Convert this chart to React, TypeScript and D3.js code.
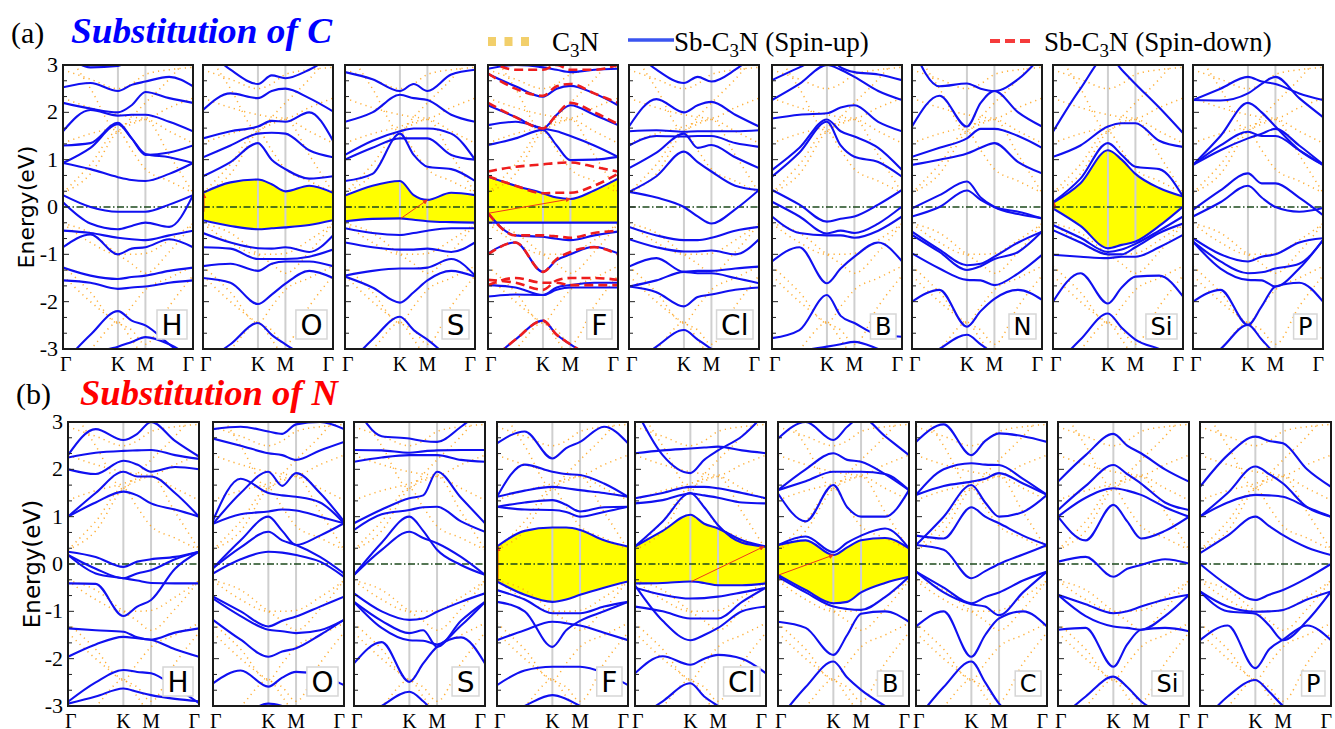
import React from 'react';
import * as d3 from 'd3';

// k-path sample points: Γ, ½ΓK, K, ½KM, M, ½MΓ, Γ (fraction of path length)
const kFrac = [0, 0.2113, 0.4226, 0.5283, 0.634, 0.817, 1];
const kTickFrac = [0, 0.4226, 0.634, 1];
const kTickLabels = ['Γ', 'K', 'M', 'Γ'];
const energyTicks = [3, 2, 1, 0, -1, -2, -3];
const energyDomain = [-3, 3];

const namesA = ['H', 'O', 'S', 'F', 'Cl', 'B', 'N', 'Si', 'P'];
const namesB = ['H', 'O', 'S', 'F', 'Cl', 'B', 'C', 'Si', 'P'];

// pristine C3N (orange dotted)
const c3nBands = [
  [-0.35, -0.75, -1.0, -1.0, -0.98, -0.7, -0.35],
  [-0.35, -0.55, -1.0, -1.2, -1.4, -0.95, -0.35],
  [-1.25, -1.8, -2.45, -2.1, -1.75, -1.5, -1.25],
  [-1.45, -2.0, -2.45, -2.6, -2.9, -2.1, -1.45],
  [-3.4, -3.0, -2.45, -2.8, -3.2, -3.4, -3.5],
  [0.3, 0.9, 1.6, 1.2, 0.8, 0.55, 0.3],
  [0.3, 0.7, 1.6, 1.75, 1.85, 1.1, 0.3],
  [1.35, 1.55, 1.7, 1.8, 1.85, 1.6, 1.35],
  [3.4, 2.5, 1.6, 1.9, 2.2, 2.7, 3.3],
  [2.3, 2.1, 1.95, 1.9, 1.88, 2.1, 2.3],
  [2.9, 2.7, 2.5, 2.6, 2.8, 2.9, 2.95],
];

// (a) substitution of C — spin-up bands
const aH = [
  [3.3, 2.95, 2.98, 3.1, 3.2, 3.3, 3.4],
  [2.53, 2.62, 2.45, 2.58, 2.65, 2.75, 2.55],
  [2.2, 2.08, 2.0, 2.15, 2.43, 2.3, 2.2],
  [1.6, 2.05, 1.93, 1.95, 1.95, 1.8, 1.6],
  [1.3, 1.35, 1.78, 1.45, 1.1, 1.15, 1.3],
  [0.93, 1.25, 1.75, 1.45, 1.12, 1.05, 0.93],
  [0.93, 0.8, 0.63, 0.57, 0.55, 0.7, 0.93],
  [0.25, 0.0, -0.1, -0.1, -0.1, 0.05, 0.25],
  [0.1, -0.35, -0.47, -0.4, -0.33, -0.42, 0.25],
  [-0.5, -0.55, -0.65, -0.68, -0.7, -0.6, -0.5],
  [-0.85, -0.58, -1.0, -0.88, -0.85, -0.68, -0.85],
  [-1.28, -1.45, -1.52, -1.48, -1.45, -1.35, -1.28],
  [-1.55, -1.6, -1.73, -1.7, -1.68, -1.6, -1.55],
  [-3.3, -2.7, -2.2, -2.4, -2.5, -2.9, -3.3],
  [-3.4, -3.1, -2.95, -2.85, -2.75, -2.9, -3.2],
];
const aO = [
  [3.4, 2.9, 2.6, 2.78, 2.72, 2.9, 3.2],
  [2.05, 2.4, 2.3, 2.45, 2.5, 2.3, 2.02],
  [1.45, 1.6, 1.7, 1.82, 1.8, 2.0, 1.4],
  [1.05, 1.3, 1.55, 1.57, 1.55, 1.2, 1.05],
  [0.65, 0.95, 1.35, 1.0, 0.8, 0.6, 0.65],
  [0.3, 0.52, 0.58, 0.48, 0.33, 0.45, 0.3],
  [-0.28, -0.4, -0.47, -0.45, -0.43, -0.38, -0.28],
  [-0.55, -0.75, -0.87, -0.88, -0.85, -0.95, -0.6],
  [-0.85, -0.88, -1.1, -1.1, -1.1, -1.05, -0.9],
  [-1.25, -1.2, -1.35, -1.2, -1.15, -1.15, -1.25],
  [-1.5, -1.6, -2.05, -1.85, -1.62, -1.35, -1.5],
  [-3.3, -2.9, -2.45, -2.7, -2.9, -3.2, -3.4],
];
const aS = [
  [2.85, 2.7, 2.45, 2.6, 2.45, 2.8, 2.9],
  [1.8, 2.0, 2.37, 2.3, 2.26, 1.95, 1.8],
  [1.1, 1.4, 1.6, 1.66, 1.66, 1.55, 1.0],
  [1.0, 1.25, 1.45, 1.45, 1.45, 1.1, 1.0],
  [0.55, 0.7, 1.55, 1.1, 0.85, 0.8, 0.55],
  [0.24, 0.45, 0.55, 0.25, 0.15, 0.3, 0.25],
  [-0.3, -0.25, -0.24, -0.27, -0.3, -0.32, -0.33],
  [-0.45, -0.55, -0.59, -0.55, -0.5, -0.45, -0.45],
  [-0.75, -0.85, -0.9, -0.9, -0.88, -0.95, -0.75],
  [-1.45, -1.35, -1.3, -1.3, -1.28, -1.1, -1.45],
  [-1.47, -1.7, -2.02, -1.8, -1.55, -1.35, -1.47],
  [-3.4, -2.8, -2.32, -2.6, -2.8, -3.2, -3.4],
];
const aF = [
  [2.92, 3.0, 2.95, 2.9, 2.85, 2.9, 2.92],
  [2.81, 2.55, 2.33, 2.5, 2.56, 2.4, 2.15],
  [2.15, 1.9, 1.66, 1.95, 2.15, 1.95, 1.73],
  [1.73, 1.8, 1.66, 1.6, 1.5, 1.3, 1.06],
  [1.31, 1.45, 1.63, 1.3, 0.99, 1.0, 1.06],
  [0.64, 0.45, 0.29, 0.2, 0.17, 0.35, 0.6],
  [-0.33, -0.33, -0.33, -0.33, -0.33, -0.33, -0.33],
  [-0.13, -0.6, -0.63, -0.67, -0.7, -0.6, -0.52],
  [-0.98, -0.75, -1.37, -1.12, -1.0, -0.84, -0.98],
  [-1.65, -1.7, -1.86, -1.7, -1.65, -1.6, -1.6],
  [-1.89, -1.85, -1.86, -1.75, -1.7, -1.7, -1.7],
  [-3.3, -2.8, -2.4, -2.7, -2.9, -3.2, -3.4],
];
// (a) F — spin-down bands
const aFDown = [
  [3.1, 2.9, 2.9, 3.0, 2.9, 2.9, 3.0],
  [2.82, 2.5, 2.35, 2.55, 2.6, 2.4, 2.2],
  [2.2, 1.9, 1.66, 1.95, 2.2, 2.0, 1.75],
  [0.75, 0.85, 0.9, 0.93, 0.94, 0.85, 0.75],
  [0.65, 0.45, 0.29, 0.3, 0.3, 0.45, 0.7],
  [-0.13, -0.6, -0.6, -0.62, -0.65, -0.55, -0.5],
  [-1.0, -0.75, -1.37, -1.1, -0.95, -0.85, -1.0],
  [-1.54, -1.6, -1.75, -1.55, -1.5, -1.5, -1.54],
  [-1.65, -1.5, -1.6, -1.6, -1.65, -1.65, -1.65],
  [-3.3, -2.8, -2.4, -2.7, -2.9, -3.2, -3.4],
];
const aCl = [
  [3.4, 2.9, 2.62, 2.75, 2.65, 2.9, 3.3],
  [1.7, 2.28, 2.0, 2.15, 2.22, 1.95, 1.7],
  [1.6, 1.62, 1.59, 1.6, 1.6, 1.6, 1.62],
  [1.3, 1.5, 1.49, 1.5, 1.5, 1.35, 1.27],
  [0.82, 1.15, 1.55, 1.25, 1.31, 1.05, 0.82],
  [0.32, 0.65, 1.17, 0.95, 0.75, 0.45, 0.36],
  [0.32, 0.2, 0.0, -0.2, -0.35, -0.05, 0.36],
  [-0.42, -0.6, -0.7, -0.7, -0.65, -0.5, -0.42],
  [-0.68, -0.85, -0.94, -0.94, -0.92, -1.0, -0.68],
  [-1.26, -1.08, -1.37, -1.35, -1.35, -1.3, -1.26],
  [-1.68, -1.55, -1.37, -1.4, -1.4, -1.5, -1.61],
  [-1.68, -1.8, -2.1, -1.9, -1.85, -1.75, -1.7],
  [-3.4, -2.95, -2.6, -2.8, -3.0, -3.3, -3.4],
];
const aB = [
  [2.68, 2.95, 3.2, 2.95, 2.85, 2.8, 2.68],
  [2.26, 2.6, 3.0, 2.9, 2.75, 2.45, 2.26],
  [1.87, 1.95, 1.98, 2.1, 2.15, 1.8, 1.6],
  [0.78, 1.25, 1.85, 1.6, 1.49, 1.25, 0.78],
  [0.64, 1.15, 1.8, 1.3, 1.06, 0.95, 0.64],
  [0.36, 0.05, -0.31, -0.25, -0.2, 0.05, 0.36],
  [0.11, -0.2, -0.56, -0.5, -0.55, -0.35, 0.01],
  [-0.2, -0.55, -0.6, -0.6, -0.65, -0.5, -0.2],
  [-1.15, -0.85, -1.61, -1.3, -1.05, -0.75, -1.15],
  [-2.77, -2.6, -1.86, -2.3, -2.45, -2.7, -2.74],
  [-3.2, -3.05, -2.95, -2.9, -2.85, -3.0, -3.2],
];
const aN = [
  [3.4, 2.55, 2.61, 2.5, 2.45, 2.7, 3.2],
  [1.7, 2.35, 1.7, 2.2, 2.45, 2.0, 1.7],
  [1.06, 1.25, 1.45, 1.65, 1.65, 1.5, 1.25],
  [0.89, 1.0, 1.13, 1.25, 1.35, 0.95, 0.71],
  [-0.03, 0.25, 0.54, 0.2, 0.0, -0.15, -0.24],
  [-0.2, 0.0, 0.35, 0.15, 0.0, -0.1, -0.24],
  [-0.52, -0.9, -1.23, -1.2, -1.05, -0.75, -0.52],
  [-0.59, -0.95, -1.33, -1.25, -1.1, -0.95, -0.52],
  [-0.98, -1.3, -1.54, -1.55, -1.65, -1.4, -1.01],
  [-2.0, -1.75, -2.53, -2.2, -1.94, -1.75, -1.96],
  [-3.4, -3.0, -2.7, -2.9, -3.1, -3.3, -3.4],
];
const aSi = [
  [1.59, 2.5, 3.2, 2.9, 2.6, 2.1, 1.56],
  [1.06, 1.3, 1.7, 1.77, 1.77, 1.4, 1.27],
  [0.09, 0.5, 1.2, 1.0, 0.7, 0.4, 0.22],
  [0.1, 0.6, 1.35, 1.1, 0.85, 0.8, 0.22],
  [-0.03, -0.4, -0.87, -0.8, -0.73, -0.4, 0.01],
  [-0.38, -0.65, -0.95, -0.9, -0.78, -0.5, -0.2],
  [-0.49, -0.75, -1.0, -1.0, -0.85, -0.55, -0.35],
  [-1.01, -1.05, -1.08, -1.05, -1.05, -0.85, -0.59],
  [-2.0, -1.4, -2.04, -1.7, -1.47, -1.45, -1.89],
  [-3.4, -2.8, -2.25, -2.55, -2.8, -3.0, -3.2],
];
const aP = [
  [2.26, 2.5, 2.75, 2.65, 2.6, 2.4, 2.26],
  [2.26, 2.25, 2.4, 2.6, 2.75, 2.3, 1.9],
  [0.89, 1.3, 1.59, 1.5, 1.5, 1.2, 0.89],
  [0.89, 1.2, 1.45, 1.55, 1.65, 1.3, 0.9],
  [0.89, 1.5, 2.2, 2.0, 1.7, 1.2, 0.89],
  [-0.06, 0.35, 0.71, 0.5, 0.5, 0.2, -0.17],
  [-0.2, 0.1, 0.45, 0.2, 0.0, -0.1, -0.02],
  [-0.66, -1.0, -1.15, -1.05, -1.0, -0.75, -0.66],
  [-0.73, -1.15, -1.4, -1.38, -1.3, -1.2, -0.7],
  [-0.73, -1.3, -1.54, -1.55, -1.68, -1.3, -0.7],
  [-2.0, -1.75, -2.49, -2.1, -1.68, -1.6, -2.0],
  [-3.4, -3.0, -2.49, -2.8, -3.1, -3.3, -3.4],
];

// (b) substitution of N — spin-up bands
const bH = [
  [2.3, 2.85, 2.62, 2.75, 3.0, 2.6, 2.27],
  [2.25, 2.35, 2.39, 2.4, 2.41, 2.3, 2.22],
  [2.0, 1.9, 2.18, 2.1, 1.95, 2.05, 2.0],
  [1.0, 1.5, 1.95, 1.85, 1.85, 1.5, 1.0],
  [1.0, 1.3, 1.53, 1.45, 1.28, 1.15, 1.0],
  [0.26, 0.15, -0.06, 0.05, 0.1, 0.15, 0.26],
  [0.19, -0.1, -0.3, -0.2, -0.13, 0.1, 0.26],
  [0.19, -0.2, -0.3, -0.35, -0.4, -0.41, -0.41],
  [-0.41, -0.42, -1.1, -0.9, -0.76, -0.1, 0.26],
  [-1.36, -1.4, -1.43, -1.55, -1.6, -1.45, -1.36],
  [-1.96, -1.7, -1.54, -1.57, -1.6, -1.8, -1.96],
  [-2.91, -2.5, -2.24, -2.28, -2.31, -2.6, -2.94],
  [-2.95, -2.8, -2.63, -2.7, -2.77, -2.85, -2.9],
];
const bO = [
  [2.85, 2.9, 2.8, 2.75, 2.95, 3.0, 2.85],
  [2.65, 2.5, 2.34, 2.3, 2.2, 2.4, 2.58],
  [0.92, 1.8, 1.5, 1.45, 1.42, 1.3, 0.86],
  [0.85, 1.05, 1.11, 1.15, 1.13, 1.0, 0.86],
  [0.85, 1.5, 1.95, 1.65, 1.92, 1.5, 0.9],
  [-0.09, 0.5, 1.0, 0.7, 0.4, 0.6, 0.86],
  [-0.09, 0.35, 0.68, 0.5, 0.4, 0.15, -0.2],
  [-0.2, 0.1, 0.26, 0.24, 0.19, 0.05, -0.27],
  [-0.69, -1.0, -1.32, -1.2, -1.11, -0.9, -0.69],
  [-0.73, -1.1, -1.39, -1.42, -1.46, -1.4, -1.18],
  [-1.18, -1.6, -1.96, -1.85, -1.78, -1.5, -1.18],
  [-2.52, -2.25, -2.59, -2.4, -2.28, -2.35, -2.56],
  [-3.4, -3.2, -2.95, -3.0, -3.1, -3.3, -3.4],
];
const bS = [
  [2.41, 2.4, 2.35, 2.38, 2.4, 2.41, 2.41],
  [2.16, 2.25, 2.3, 2.3, 2.3, 2.2, 2.16],
  [3.4, 2.7, 2.65, 2.6, 2.58, 2.9, 3.3],
  [0.86, 1.15, 1.39, 1.45, 1.95, 1.4, 0.86],
  [0.72, 1.05, 1.14, 1.2, 1.21, 0.9, 0.68],
  [-0.23, 0.3, 0.68, 0.55, 0.44, 0.15, -0.23],
  [-0.23, 0.45, 1.0, 0.7, 0.3, -0.02, -0.23],
  [-0.62, -1.0, -1.18, -1.15, -1.01, -0.8, -0.62],
  [-0.8, -1.2, -1.46, -1.4, -1.75, -1.2, -0.8],
  [-0.8, -1.35, -1.61, -1.62, -1.7, -1.3, -0.8],
  [-2.1, -1.65, -2.49, -2.1, -1.75, -1.55, -2.1],
  [-3.4, -3.0, -2.7, -2.9, -3.2, -3.4, -3.5],
];
const bF = [
  [2.55, 2.8, 2.23, 2.45, 2.58, 2.9, 2.55],
  [1.42, 2.1, 1.95, 1.9, 1.88, 1.7, 1.42],
  [1.42, 1.55, 1.63, 1.6, 1.56, 1.5, 1.42],
  [1.21, 1.3, 1.35, 1.25, 1.11, 1.2, 1.21],
  [1.21, 1.15, 1.14, 1.1, 1.0, 1.1, 1.21],
  [0.37, 0.7, 0.77, 0.77, 0.72, 0.5, 0.37],
  [-0.37, -0.65, -0.8, -0.75, -0.65, -0.5, -0.37],
  [-0.55, -0.75, -1.04, -1.04, -1.04, -0.9, -0.8],
  [-0.8, -1.0, -1.75, -1.4, -1.2, -1.0, -0.8],
  [-1.61, -1.4, -1.22, -1.25, -1.3, -1.45, -1.61],
  [-2.56, -2.25, -2.17, -2.17, -2.17, -2.3, -2.56],
  [-3.3, -3.0, -2.77, -2.85, -3.0, -3.2, -3.4],
];
const bCl = [
  [2.34, 2.4, 2.44, 2.46, 2.48, 2.4, 2.34],
  [3.3, 2.3, 1.92, 2.2, 2.4, 2.7, 3.2],
  [1.39, 1.5, 1.63, 1.63, 1.6, 1.5, 1.39],
  [1.28, 1.35, 1.49, 1.45, 1.4, 1.3, 1.28],
  [0.37, 0.9, 1.5, 1.2, 0.82, 0.45, 0.37],
  [0.37, 0.7, 1.04, 0.85, 0.75, 0.5, 0.37],
  [-0.41, -0.4, -0.37, -0.4, -0.45, -0.45, -0.41],
  [-0.5, -0.65, -0.73, -0.72, -0.69, -0.6, -0.5],
  [-0.9, -1.0, -1.15, -1.15, -1.15, -0.8, -0.5],
  [-0.45, -1.2, -1.61, -1.5, -1.35, -1.0, -0.9],
  [-2.31, -1.95, -2.13, -2.0, -1.92, -2.0, -2.31],
  [-3.3, -2.9, -2.52, -2.8, -3.0, -3.3, -3.4],
];
const bB = [
  [2.65, 3.0, 2.62, 2.9, 3.1, 2.7, 2.3],
  [1.56, 2.0, 2.34, 2.2, 2.16, 1.9, 1.56],
  [1.56, 1.75, 1.95, 1.95, 1.95, 1.9, 1.56],
  [1.49, 0.9, 1.67, 1.2, 1.0, 1.0, 1.56],
  [0.4, 0.58, 0.25, 0.45, 0.6, 0.75, 0.33],
  [0.4, 0.5, 0.19, 0.35, 0.5, 0.55, 0.33],
  [-0.23, -0.55, -0.83, -0.8, -0.6, -0.4, -0.27],
  [-0.27, -0.6, -0.9, -0.95, -0.97, -0.7, -0.27],
  [-1.22, -1.35, -1.92, -1.5, -1.05, -1.0, -1.22],
  [-3.3, -2.6, -2.06, -2.4, -2.66, -3.0, -3.3],
];
const bC = [
  [2.58, 2.95, 2.3, 2.6, 2.76, 2.7, 2.58],
  [1.46, 2.0, 2.13, 2.1, 2.09, 1.8, 1.46],
  [1.46, 1.65, 1.74, 1.8, 1.92, 1.7, 1.46],
  [0.4, 1.0, 1.67, 1.3, 1.0, 1.1, 1.46],
  [0.6, 0.54, 1.2, 1.0, 0.86, 0.6, 0.4],
  [0.4, 0.3, -0.3, -0.15, 0.0, 0.2, 0.4],
  [-0.16, -0.5, -0.83, -0.7, -0.6, -0.35, -0.16],
  [-0.16, -0.6, -0.85, -0.9, -1.08, -0.6, -0.16],
  [-1.32, -1.0, -1.96, -1.5, -1.15, -1.0, -1.32],
  [-3.3, -2.6, -2.06, -2.5, -2.95, -3.3, -3.5],
];
const bSi = [
  [1.74, 2.3, 2.75, 2.5, 2.34, 2.0, 1.74],
  [1.14, 1.65, 2.09, 1.9, 1.7, 1.3, 1.14],
  [1.0, 1.4, 1.6, 1.55, 1.46, 1.2, 1.0],
  [1.0, 0.5, 1.25, 0.9, 0.54, 0.7, 1.0],
  [0.05, 0.15, -0.27, -0.1, -0.02, 0.1, 0.01],
  [-0.65, -0.85, -1.04, -1.0, -0.9, -0.75, -0.65],
  [-0.65, -1.1, -1.32, -1.35, -1.39, -1.1, -0.65],
  [-1.39, -1.35, -2.17, -1.7, -1.39, -1.35, -1.42],
  [-3.3, -2.8, -2.38, -2.6, -2.9, -3.2, -3.4],
];
const bP = [
  [1.63, 2.3, 2.69, 2.6, 2.55, 2.0, 1.63],
  [1.0, 1.5, 2.06, 1.9, 1.7, 1.2, 1.0],
  [1.0, 1.3, 1.46, 1.45, 1.42, 1.2, 1.0],
  [0.23, 0.6, 1.0, 0.8, 0.61, 0.35, 0.19],
  [0.0, -0.45, -0.76, -0.65, -0.55, -0.3, 0.0],
  [-0.58, -0.9, -1.01, -1.0, -0.97, -0.75, -0.58],
  [-0.58, -1.0, -1.05, -1.3, -1.61, -1.2, -0.58],
  [-1.61, -1.3, -2.2, -1.8, -1.6, -1.3, -1.61],
  [-3.4, -2.8, -2.45, -2.7, -3.0, -3.3, -3.4],
];

const bandsA = [aH, aO, aS, aF, aCl, aB, aN, aSi, aP];
const bandsB = [bH, bO, bS, bF, bCl, bB, bC, bSi, bP];
const downA = [null, null, null, aFDown, null, null, null, null, null];
const downB = [null, null, null, null, null, null, null, null, null];
// gap fill: [top band index, bottom band index]
const gapA = [null, [5, 6], [5, 6], [5, 6], null, null, null, [2, 4], null];
const gapB = [null, null, null, [5, 6], [5, 6], [5, 6], null, null, null];
// indirect-gap arrows: [[k, E] from, [k, E] to]
const arrowsA = [null, [[0, -0.1], [0, 0.28]], [[0.4226, -0.24], [0.634, 0.15]], [[0, -0.13], [0.634, 0.17]], null, null, null, [[0, -0.05], [0, 0.1]], null];
const arrowsB = [null, null, null, [[0, -0.37], [0, 0.37]], [[0.4226, -0.37], [1, 0.37]], [[0, -0.23], [0.4226, 0.19]], null, null, null];

const W = 1335;
const H = 729;

const rows = [
  { top: 65, bottom: 349, width: 130, lefts: [63, 203, 345, 488, 629, 772, 912, 1053, 1193], names: namesA, bands: bandsA, down: downA, gap: gapA, arrows: arrowsA, kLabelY: 371, energyX: 26, energyFs: 22 },
  { top: 422, bottom: 706, width: 131, lefts: [68, 213, 354, 497, 635, 778, 916, 1058, 1200], names: namesB, bands: bandsB, down: downB, gap: gapB, arrows: arrowsB, kLabelY: 728, energyX: 32, energyFs: 23 },
];

const labelWidthEm: Record<string, number> = { H: 0.75, O: 0.79, S: 0.64, F: 0.58, Cl: 0.98, B: 0.69, N: 0.75, Si: 0.92, P: 0.6, C: 0.7 };

const BLUE = '#1010f0';
const SERIF = '"Liberation Serif", "Times New Roman", serif';
const SANS = '"DejaVu Sans", sans-serif';

function Panel({ row, i }: { row: any; i: number }) {
  const left = row.lefts[i];
  const right = left + row.width;
  const x = d3.scaleLinear().domain([0, 1]).range([left, right]);
  const y = d3.scaleLinear().domain(energyDomain).range([row.bottom, row.top]);
  const line = d3.line<number>().x((_, j) => x(kFrac[j])).y((d) => y(d)).curve(d3.curveMonotoneX);
  const bands: number[][] = row.bands[i];
  const down: number[][] | null = row.down[i];
  const gap = row.gap[i];
  const arrow = row.arrows[i];
  const clipId = `clip-${row.top}-${i}`;
  const name: string = row.names[i];
  const fs = i < 5 ? 28 : 24;
  const bw = labelWidthEm[name] * fs + 9;
  const bh = fs + 1;
  const bx = right - 6 - bw;
  const by = row.bottom - 10 - bh;
  let area: string | null = null;
  if (gap) {
    const topB = bands[gap[0]];
    const botB = bands[gap[1]];
    const a = d3
      .area<number>()
      .x((_, j) => x(kFrac[j]))
      .y0((_, j) => y(botB[j]))
      .y1((d) => y(d))
      .curve(d3.curveMonotoneX);
    area = a(topB);
  }
  const minorTicks = d3.range(-9, 10).map((v) => v / 3);
  return (
    <g>
      <defs>
        <clipPath id={clipId}>
          <rect x={left} y={row.top} width={row.width} height={row.bottom - row.top} />
        </clipPath>
      </defs>
      <rect x={left} y={row.top} width={row.width} height={row.bottom - row.top} fill="#fff" />
      <g clipPath={`url(#${clipId})`}>
        {area && <path d={area} fill="#ffff00" stroke="none" />}
        {kTickFrac.slice(1, 3).map((k, j) => (
          <line key={j} x1={x(k)} x2={x(k)} y1={row.top} y2={row.bottom} stroke="#cfcfcf" strokeWidth={2} />
        ))}
        {c3nBands.map((b, j) => (
          <path key={'c' + j} d={line(b) || ''} fill="none" stroke="#ffa010" strokeWidth={1.5} strokeOpacity={0.85} strokeDasharray="1.2,4.2" />
        ))}
        <line x1={left} x2={right} y1={y(0)} y2={y(0)} stroke="#1c4a1c" strokeWidth={1.3} strokeDasharray="7,2.5,1.5,2.5" />
        {bands.map((b, j) => (
          <path key={'b' + j} d={line(b) || ''} fill="none" stroke={BLUE} strokeWidth={2.1} />
        ))}
        {down &&
          down.map((b, j) => (
            <path key={'r' + j} d={line(b) || ''} fill="none" stroke="#ee1d1d" strokeWidth={2.6} strokeDasharray="9,5" />
          ))}
        {arrow && (
          <line
            x1={x(arrow[0][0]) + 1}
            y1={y(arrow[0][1])}
            x2={x(arrow[1][0]) - (arrow[1][0] === 1 ? 2 : 0) + (arrow[0][0] === arrow[1][0] ? 1 : 0)}
            y2={y(arrow[1][1])}
            stroke="#f03a1a"
            strokeWidth={1}
            markerEnd="url(#arrowHead)"
          />
        )}
      </g>
      {minorTicks.map((v) => (
        <line
          key={'t' + v}
          x1={left}
          x2={left + (Math.abs(v - Math.round(v)) < 1e-6 ? 6 : 4)}
          y1={y(v)}
          y2={y(v)}
          stroke="#222"
          strokeWidth={1}
        />
      ))}
      <rect x={bx} y={by} width={bw} height={bh} fill="#fff" stroke="#d6d6d6" strokeWidth={1.5} />
      <text x={bx + bw / 2} y={by + bh / 2 + fs * 0.36} textAnchor="middle" fontFamily={SANS} fontSize={fs} fill="#000">
        {name}
      </text>
      <rect x={left} y={row.top} width={row.width} height={row.bottom - row.top} fill="none" stroke="#1a1a1a" strokeWidth={2} />
      {kTickFrac.map((k, j) => (
        <text
          key={'k' + j}
          x={j === 0 ? x(k) - 3 : j === 3 ? x(k) + 1 : x(k)}
          y={row.kLabelY}
          textAnchor={j === 0 ? 'start' : j === 3 ? 'end' : 'middle'}
          fontFamily={SERIF}
          fontSize={20}
          fill="#000"
        >
          {kTickLabels[j]}
        </text>
      ))}
      {i === 0 &&
        energyTicks.map((v) => (
          <text key={'e' + v} x={left - 5} y={y(v) + 7} textAnchor="end" fontFamily={SERIF} fontSize={22} fill="#000">
            {v}
          </text>
        ))}
    </g>
  );
}

export default function App() {
  return (
    <svg width={W} height={H} style={{ position: 'absolute', left: 0, top: 0, background: '#fff' }}>
      <defs>
        <marker id="arrowHead" viewBox="0 0 10 10" refX="9" refY="5" markerWidth="5" markerHeight="5" orient="auto">
          <path d="M0,0 L10,5 L0,10 z" fill="#f03a1a" />
        </marker>
      </defs>
      <rect x={0} y={0} width={W} height={H} fill="#fff" />
      {/* titles */}
      <text x={11} y={43} fontFamily={SERIF} fontSize={30} fill="#000">(a)</text>
      <text x={71} y={43} fontFamily={SERIF} fontSize={36} fontWeight="bold" fontStyle="italic" fill="#0000ff" textLength={261} lengthAdjust="spacingAndGlyphs">
        Substitution of C
      </text>
      <text x={16} y={404} fontFamily={SERIF} fontSize={30} fill="#000">(b)</text>
      <text x={80} y={405} fontFamily={SERIF} fontSize={36} fontWeight="bold" fontStyle="italic" fill="#ff0000" textLength={258} lengthAdjust="spacingAndGlyphs">
        Substitution of N
      </text>
      {/* legend */}
      {[0, 1, 2].map((j) => (
        <rect key={'lg' + j} x={488 + j * 16.5} y={37} width={8} height={9} fill="#f2cf6b" />
      ))}
      <text x={552} y={51} fontFamily={SERIF} fontSize={27} fill="#000">
        C<tspan dy={6} fontSize={19}>3</tspan><tspan dy={-6}>N</tspan>
      </text>
      <line x1={628} x2={674} y1={40} y2={40} stroke="#3a55f0" strokeWidth={3.5} />
      <text x={674} y={51} fontFamily={SERIF} fontSize={27} fill="#000">
        Sb-C<tspan dy={6} fontSize={19}>3</tspan><tspan dy={-6}>N (Spin-up)</tspan>
      </text>
      {[0, 1, 2].map((j) => (
        <rect key={'ld' + j} x={990 + j * 15} y={39} width={10} height={4} fill="#f53b3b" />
      ))}
      <text x={1044} y={51} fontFamily={SERIF} fontSize={27} fill="#000">
        Sb-C<tspan dy={6} fontSize={19}>3</tspan><tspan dy={-6}>N (Spin-down)</tspan>
      </text>
      {/* energy labels */}
      {rows.map((row, r) => (
        <text
          key={'en' + r}
          transform={`translate(${row.energyX},${(row.top + row.bottom) / 2}) rotate(-90)`}
          textAnchor="middle"
          dominantBaseline="central"
          fontFamily={SANS}
          fontSize={row.energyFs}
          fill="#000"
        >
          Energy(eV)
        </text>
      ))}
      {rows.map((row, r) => (
        <g key={'row' + r}>
          {row.lefts.map((_: number, i: number) => (
            <Panel key={i} row={row} i={i} />
          ))}
        </g>
      ))}
    </svg>
  );
}
